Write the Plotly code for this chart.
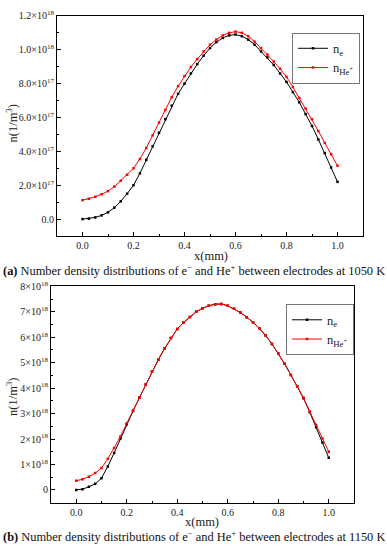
import plotly.graph_objects as go

# ---------------- data ----------------
x_mm = [0.000, 0.025, 0.050, 0.075, 0.100, 0.125, 0.150, 0.175, 0.200, 0.225,
        0.250, 0.275, 0.300, 0.325, 0.350, 0.375, 0.400, 0.425, 0.450, 0.475,
        0.500, 0.525, 0.550, 0.575, 0.600, 0.625, 0.650, 0.675, 0.700, 0.725,
        0.750, 0.775, 0.800, 0.825, 0.850, 0.875, 0.900, 0.925, 0.950, 0.975, 1.000]

# (a) 1050 K, units 1e18 m^-3
ne_1050 = [0.000, 0.003, 0.010, 0.022, 0.040, 0.068, 0.105, 0.150, 0.200, 0.270,
           0.350, 0.430, 0.510, 0.590, 0.670, 0.740, 0.800, 0.860, 0.915, 0.965,
           1.010, 1.045, 1.070, 1.085, 1.090, 1.080, 1.060, 1.030, 0.990, 0.955,
           0.910, 0.860, 0.810, 0.750, 0.690, 0.620, 0.550, 0.470, 0.390, 0.305, 0.220]
nhe_1050 = [0.112, 0.120, 0.132, 0.147, 0.165, 0.192, 0.227, 0.262, 0.300, 0.355,
            0.420, 0.495, 0.570, 0.645, 0.720, 0.785, 0.845, 0.898, 0.945, 0.990,
            1.030, 1.060, 1.085, 1.100, 1.107, 1.100, 1.080, 1.048, 1.010, 0.972,
            0.930, 0.888, 0.840, 0.780, 0.715, 0.652, 0.590, 0.520, 0.450, 0.383, 0.315]

# (b) 1150 K, units 1e18 m^-3
ne_1150 = [0.00, 0.03, 0.12, 0.24, 0.46, 0.92, 1.45, 2.02, 2.58, 3.10,
           3.62, 4.14, 4.65, 5.12, 5.56, 5.97, 6.33, 6.58, 6.80, 7.00,
           7.14, 7.24, 7.30, 7.31, 7.24, 7.12, 6.97, 6.79, 6.59, 6.35,
           6.07, 5.74, 5.36, 4.96, 4.52, 4.07, 3.60, 3.05, 2.46, 1.86, 1.26]
nhe_1150 = [0.36, 0.42, 0.52, 0.66, 0.86, 1.22, 1.65, 2.10, 2.62, 3.12,
            3.63, 4.14, 4.65, 5.12, 5.56, 5.97, 6.33, 6.58, 6.80, 7.00,
            7.14, 7.24, 7.30, 7.31, 7.24, 7.12, 6.97, 6.79, 6.59, 6.35,
            6.07, 5.74, 5.36, 4.96, 4.52, 4.07, 3.62, 3.08, 2.55, 2.02, 1.50]

x_ticks = [0.0, 0.2, 0.4, 0.6, 0.8, 1.0]
x_ticklabels = ["0.0", "0.2", "0.4", "0.6", "0.8", "1.0"]
ya_ticks = [0, 0.2, 0.4, 0.6, 0.8, 1.0, 1.2]
ya_ticklabels = ["0.0", "2.0×10<sup>17</sup>", "4.0×10<sup>17</sup>", "6.0×10<sup>17</sup>",
                 "8.0×10<sup>17</sup>", "1.0×10<sup>18</sup>", "1.2×10<sup>18</sup>"]
yb_ticks = [0, 1, 2, 3, 4, 5, 6, 7, 8]
yb_ticklabels = ["0"] + [f"{v}×10<sup>18</sup>" for v in range(1, 9)]

captions = [
    "<b>(a)</b> Number density distributions of e<sup>−</sup> and He<sup>+</sup> between electrodes at 1050 K",
    "<b>(b)</b> Number density distributions of e<sup>−</sup> and He<sup>+</sup> between electrodes at 1150 K",
]

FONT = "Liberation Serif"
W, H = 387, 550

fig = go.Figure()

def add_pair(ne, nhe, xa, ya, legend):
    fig.add_trace(go.Scatter(x=x_mm, y=ne, xaxis=xa, yaxis=ya, name="n<sub>e</sub>",
                             mode="lines+markers", line=dict(color="black", width=1),
                             marker=dict(color="black", size=2.5, symbol="square"), legend=legend))
    fig.add_trace(go.Scatter(x=x_mm, y=nhe, xaxis=xa, yaxis=ya, name="n<sub>He<sup>+</sup></sub>",
                             mode="lines+markers", line=dict(color="red", width=1),
                             marker=dict(color="red", size=2.5, symbol="square"), legend=legend))

add_pair(ne_1050, nhe_1050, "x", "y", "legend")
add_pair(ne_1150, nhe_1150, "x2", "y2", "legend2")

def px_x(p):
    return p / W

def px_y(p):
    return 1 - p / H

axis_common = dict(showline=True, linecolor="black", linewidth=1, mirror=True,
                   ticks="inside", ticklen=4, tickcolor="black", showgrid=False, zeroline=False,
                   tickfont=dict(family=FONT, size=10, color="#222"),
                   minor=dict(ticks="inside", ticklen=2, tickcolor="black"))

fig.update_layout(
    width=W, height=H, margin=dict(l=0, r=0, t=0, b=0),
    paper_bgcolor="white", plot_bgcolor="white",
    font=dict(family=FONT, color="#222"),
    xaxis=dict(domain=[px_x(57), px_x(363)], anchor="y", range=[-0.1, 1.1],
               tickvals=x_ticks, ticktext=x_ticklabels, minor_dtick=0.1, **axis_common),
    yaxis=dict(domain=[px_y(232), px_y(9)], anchor="x", range=[-0.1, 1.2],
               tickvals=ya_ticks, ticktext=ya_ticklabels, minor_dtick=0.1, minor_tick0=0, **axis_common),
    xaxis2=dict(domain=[px_x(51), px_x(354)], anchor="y2", range=[-0.1, 1.1],
                tickvals=x_ticks, ticktext=x_ticklabels, minor_dtick=0.1, **axis_common),
    yaxis2=dict(domain=[px_y(502), px_y(283)], anchor="x2", range=[-0.5, 8.0],
                tickvals=yb_ticks, ticktext=yb_ticklabels, minor_dtick=0.5, minor_tick0=0, **axis_common),
    legend=dict(x=px_x(292), y=px_y(26), xanchor="left", yanchor="top",
                bordercolor="#777", borderwidth=1, bgcolor="white",
                font=dict(family=FONT, size=12.5, color="#222"), tracegroupgap=0,
                itemwidth=30),
    legend2=dict(x=px_x(286), y=px_y(301), xanchor="left", yanchor="top",
                 bordercolor="#777", borderwidth=1, bgcolor="white",
                 font=dict(family=FONT, size=12.5, color="#222"), tracegroupgap=0,
                 itemwidth=30),
)

def note(text, xp, yp, size, angle=0, color="#222"):
    return dict(text=text, x=px_x(xp), y=px_y(yp), xref="paper", yref="paper",
                xanchor="center", yanchor="middle", showarrow=False, textangle=angle,
                font=dict(family=FONT, size=size, color=color))

ann = [
    note("x(mm)", 211, 252, 12.5),
    note("x(mm)", 202, 522, 12.5),
    note("n(1/m<sup>3</sup>)", 12, 118, 12.5, angle=-90),
    note("n(1/m<sup>3</sup>)", 12, 395, 12.5, angle=-90),
    note(captions[0], 194, 266, 12.4, color="#111"),
    note(captions[1], 194, 536, 12.4, color="#111"),
]
fig.update_layout(annotations=ann)

fig.write_html("out.html", config={"displayModeBar": False},
               post_script="document.body.style.margin='0';document.body.style.padding='0';document.body.style.overflow='hidden';")
